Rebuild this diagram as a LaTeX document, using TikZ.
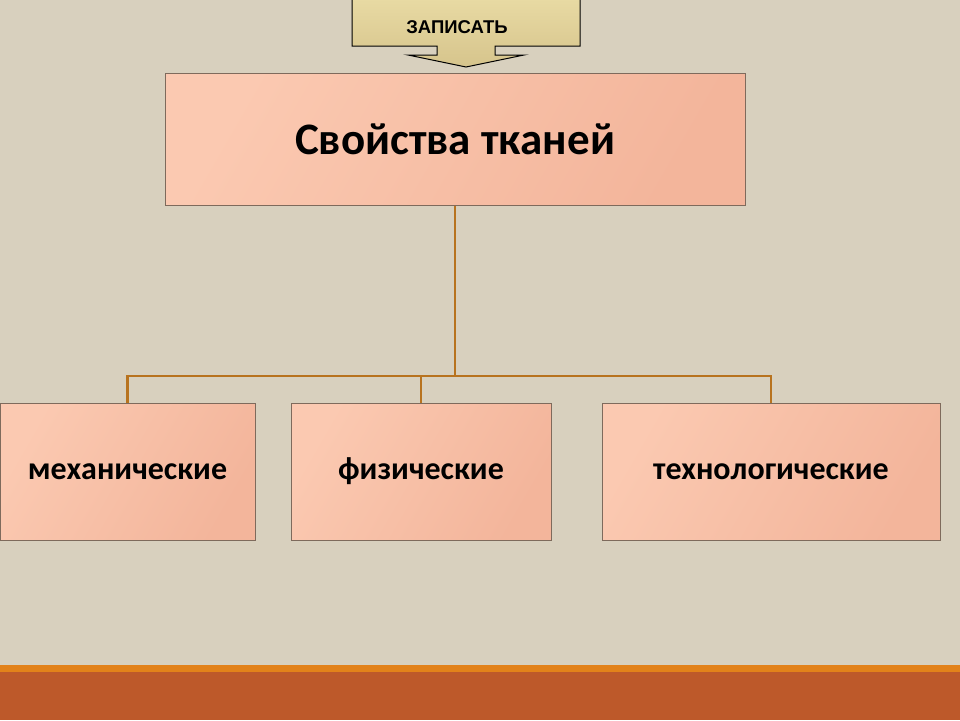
\documentclass[tikz,border=0pt]{standalone}
\usepackage{fontspec}
\setmainfont{Carlito}
\newfontfamily\arialfont{Liberation Sans}
\definecolor{holst}{HTML}{D8D0BE}
\definecolor{persik}{HTML}{FBC9B1}
\definecolor{persiktemn}{HTML}{F3B59B}
\definecolor{ramka}{HTML}{7E6A5C}
\definecolor{liniya}{HTML}{B8731F}
\definecolor{khaki}{HTML}{E8DAA3}
\definecolor{khakitemn}{HTML}{D6C48C}
\definecolor{oranzh}{HTML}{E2821A}
\definecolor{rzhav}{HTML}{BD592A}

\begin{document}
\begin{tikzpicture}[x=1pt, y=-1pt,
  box/.style = {draw=ramka, line width=1pt, left color=persik, right color=persiktemn, shading angle=60,
                inner sep=0pt, font=\bfseries\fontsize{32}{38}\selectfont},
  conn/.style = {draw=liniya, line width=2.2pt}]
\useasboundingbox (0,0) rectangle (960,720);
\fill[holst] (0,0) rectangle (960,720);
\fill[oranzh] (0,665) rectangle (960,672);
\fill[rzhav] (0,672) rectangle (960,720);

\shade[top color=khaki, bottom color=khakitemn, draw=black, line width=1pt]
  (352,-1) -- (580,-1) -- (580,46) -- (495,46) -- (495,55) -- (524,55) -- (466,67)
  -- (408,55) -- (437,55) -- (437,46) -- (352,46) -- cycle;
\node (zapisat) at (457,27) {\arialfont\bfseries\fontsize{18.5}{22}\selectfont ЗАПИСАТЬ};

\node[box, minimum width=580pt, minimum height=132pt, font=\bfseries\fontsize{45}{52}\selectfont] (svoistva) at (455,139) {Свойства тканей};
\node[box, minimum width=255pt, minimum height=137pt] (mekh) at (127.5,471.5) {механические};
\node[box, minimum width=260pt, minimum height=137pt] (fiz) at (421,471.5) {физические};
\node[box, minimum width=338pt, minimum height=137pt] (tekh) at (771,471.5) {технологические};

\coordinate (razv) at (455,376);
\draw[conn] (svoistva.south) -- (razv);
\draw[conn] (razv) -| (mekh.north);
\draw[conn] (razv) -| (fiz.north);
\draw[conn] (razv) -| (tekh.north);
\end{tikzpicture}
\end{document}
